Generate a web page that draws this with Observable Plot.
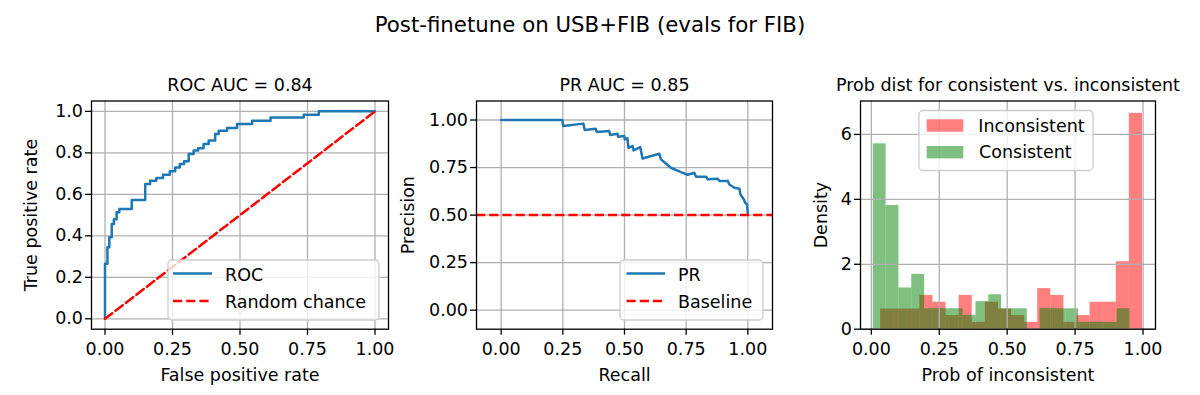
<!DOCTYPE html>
<html><head><meta charset="utf-8">
<script src="https://cdn.jsdelivr.net/npm/d3@7"></script>
<script src="https://cdn.jsdelivr.net/npm/@observablehq/plot@0.6"></script>
<style>
body{margin:0;background:#fff;font-family:"DejaVu Sans",sans-serif;}
#fig{position:relative;width:1200px;height:395px;overflow:hidden;background:#fff;}
#fig > svg{position:absolute;top:0;}
</style></head><body><div id="fig"></div>
<script>
// ---------- texts ----------
const suptitle = "Post-finetune on USB+FIB (evals for FIB)";
const rocTitle = "ROC AUC = 0.84";
const prTitle = "PR AUC = 0.85";
const histTitle = "Prob dist for consistent vs. inconsistent";
const rocXLabel = "False positive rate", rocYLabel = "True positive rate";
const prXLabel = "Recall", prYLabel = "Precision";
const histXLabel = "Prob of inconsistent", histYLabel = "Density";
const rocLegend = ["ROC", "Random chance"];
const prLegend = ["PR", "Baseline"];
const histLegend = ["Inconsistent", "Consistent"];

// ---------- tick values ----------
const rocXTicks = [0, 0.25, 0.5, 0.75, 1];
const rocYTicks = [0, 0.2, 0.4, 0.6, 0.8, 1];
const prXTicks = [0, 0.25, 0.5, 0.75, 1];
const prYTicks = [0, 0.25, 0.5, 0.75, 1];
const histXTicks = [0, 0.25, 0.5, 0.75, 1];
const histYTicks = [0, 2, 4, 6];

// ---------- ROC curve (step corners) ----------
const rocFpr = [0, 0, 0.009, 0.016, 0.025, 0.033, 0.043, 0.053, 0.099, 0.149, 0.167, 0.19, 0.215, 0.24, 0.26, 0.277, 0.293, 0.31, 0.328, 0.345, 0.365, 0.384, 0.408, 0.421, 0.452, 0.489, 0.545, 0.613, 0.736, 0.792, 1];
const rocTpr = [0, 0.265, 0.345, 0.393, 0.457, 0.48, 0.514, 0.53, 0.573, 0.65, 0.666, 0.679, 0.695, 0.711, 0.73, 0.746, 0.759, 0.795, 0.811, 0.822, 0.843, 0.859, 0.891, 0.907, 0.92, 0.939, 0.955, 0.971, 0.984, 1.0, 1.0];
const chanceX = [0, 1];
const chanceY = [0, 1];

// ---------- PR curve ----------
const prRecall = [0, 0.248, 0.252, 0.333, 0.339, 0.383, 0.388, 0.438, 0.442, 0.472, 0.474, 0.499, 0.501, 0.512, 0.516, 0.533, 0.537, 0.564, 0.573, 0.641, 0.648, 0.664, 0.688, 0.729, 0.756, 0.783, 0.79, 0.831, 0.837, 0.878, 0.885, 0.919, 0.925, 0.946, 0.966, 0.97, 0.984, 0.989, 0.997, 1.0];
const prPrecision = [1, 1, 0.968, 0.981, 0.947, 0.954, 0.937, 0.942, 0.921, 0.928, 0.912, 0.916, 0.898, 0.904, 0.854, 0.863, 0.84, 0.858, 0.798, 0.823, 0.793, 0.775, 0.749, 0.726, 0.712, 0.723, 0.702, 0.702, 0.688, 0.691, 0.679, 0.679, 0.661, 0.644, 0.639, 0.609, 0.582, 0.565, 0.556, 0.504];
const baselinePrecision = [0.5];

// ---------- histograms (density, 20 bins each) ----------
const inconsistentRange = [0.034, 0.998];
const inconsistentDensity = [0.62, 0.62, 0.62, 1.04, 0.83, 0.42, 1.04, 0.21, 0.83, 0.62, 0.42, 0.21, 1.25, 1.04, 0.21, 0.42, 0.83, 0.83, 2.08, 6.65];
const consistentRange = [0.007, 0.952];
const consistentDensity = [5.71, 3.81, 1.27, 1.69, 0.63, 0.63, 0.63, 0.42, 0.85, 1.06, 0.63, 0.63, 0, 0.63, 0.63, 0.63, 0.21, 0.21, 0.21, 0.63];

// ---------- styling ----------
const FONT = "DejaVu Sans";
const FS = 17.5;
const BLUE = "#1f77b4", RED = "red", GRID = "#b0b0b0";
const DASH = "9.2,4";
const TOP = 100.5, BOTTOM = 66.3;

function toBins(range, dens) {
  const w = (range[1] - range[0]) / dens.length;
  return dens.map((y, i) => ({x1: range[0] + i * w, x2: range[0] + (i + 1) * w, y}));
}
const zip = (a, b) => a.map((x, i) => ({x, y: b[i]}));

function panel({left, width, marginLeft, marginRight, xDomain, yDomain, xTicks, yTicks, xFmt, yFmt, title, xLabel, yLabel, yLabelDx, content, gridOnTop}) {
  const grid = [
    Plot.gridX(xTicks, {stroke: GRID, strokeOpacity: 1, strokeWidth: 1.3}),
    Plot.gridY(yTicks, {stroke: GRID, strokeOpacity: 1, strokeWidth: 1.3})
  ];
  const p = Plot.plot({
    width, height: 395,
    marginTop: TOP, marginBottom: BOTTOM, marginLeft, marginRight,
    x: {domain: xDomain}, y: {domain: yDomain},
    style: {fontFamily: FONT, fontSize: FS + "px", color: "black", background: "transparent", overflow: "visible"},
    marks: [
      ...(gridOnTop ? [] : grid),
      ...content,
      ...(gridOnTop ? grid : []),
      Plot.frame({stroke: "black", strokeWidth: 1.3}),
      Plot.axisX(xTicks, {tickFormat: xFmt, tickSize: 6, tickPadding: 7.5, label: null, strokeWidth: 1.3, fontSize: FS}),
      Plot.axisY(yTicks, {tickFormat: yFmt, tickSize: 6, tickPadding: 2.5, label: null, strokeWidth: 1.3, fontSize: FS}),
      Plot.text([title], {text: d => d, frameAnchor: "top", dy: -9.8, lineAnchor: "bottom", fontSize: FS}),
      Plot.text([xLabel], {text: d => d, frameAnchor: "bottom", dy: 52, lineAnchor: "bottom", fontSize: FS}),
      Plot.text([yLabel], {text: d => d, frameAnchor: "left", textAnchor: "middle", dx: yLabelDx, rotate: -90, lineAnchor: "bottom", fontSize: FS})
    ]
  });
  p.style.left = left + "px";
  return p;
}

const fig = document.getElementById("fig");

fig.append(panel({
  left: 0, width: 420, marginLeft: 91, marginRight: 32,
  xDomain: [-0.05, 1.05], yDomain: [-0.05, 1.05],
  xTicks: rocXTicks, yTicks: rocYTicks, xFmt: d3.format(".2f"), yFmt: d3.format(".1f"),
  title: rocTitle, xLabel: rocXLabel, yLabel: rocYLabel, yLabelDx: -55,
  content: [
    Plot.line(zip(rocFpr, rocTpr), {x: "x", y: "y", curve: "step-after", stroke: BLUE, strokeWidth: 2.5}),
    Plot.line(zip(chanceX, chanceY), {x: "x", y: "y", stroke: RED, strokeWidth: 2.5, strokeDasharray: DASH})
  ]
}));

fig.append(panel({
  left: 420, width: 390, marginLeft: 56, marginRight: 38,
  xDomain: [-0.1, 1.1], yDomain: [-0.1, 1.1],
  xTicks: prXTicks, yTicks: prYTicks, xFmt: d3.format(".2f"), yFmt: d3.format(".2f"),
  title: prTitle, xLabel: prXLabel, yLabel: prYLabel, yLabelDx: -63,
  content: [
    Plot.line(zip(prRecall, prPrecision), {x: "x", y: "y", stroke: BLUE, strokeWidth: 2.5}),
    Plot.ruleY(baselinePrecision, {stroke: RED, strokeWidth: 2.5, strokeDasharray: DASH})
  ]
}));

fig.append(panel({
  left: 810, width: 390, marginLeft: 50, marginRight: 45,
  xDomain: [-0.04, 1.046], yDomain: [0, 7.03],
  xTicks: histXTicks, yTicks: histYTicks, xFmt: d3.format(".2f"), yFmt: d3.format("d"),
  title: histTitle, xLabel: histXLabel, yLabel: histYLabel, yLabelDx: -34,
  gridOnTop: true,
  content: [
    Plot.rect(toBins(inconsistentRange, inconsistentDensity), {x1: "x1", x2: "x2", y1: 0, y2: "y", fill: "red", fillOpacity: 0.5}),
    Plot.rect(toBins(consistentRange, consistentDensity), {x1: "x1", x2: "x2", y1: 0, y2: "y", fill: "green", fillOpacity: 0.5})
  ]
}));

// ---------- overlay: suptitle and legends ----------
const ov = d3.select(fig).append("svg")
  .attr("width", 1200).attr("height", 395)
  .style("left", "0px").style("pointer-events", "none")
  .attr("font-family", FONT);

ov.append("text").attr("x", 590).attr("y", 32).attr("text-anchor", "middle")
  .attr("font-size", 21.3).attr("fill", "black").text(suptitle);

function legendBox(x, y, w, h) {
  ov.append("rect").attr("x", x).attr("y", y).attr("width", w).attr("height", h)
    .attr("rx", 4).attr("fill", "white").attr("fill-opacity", 0.8)
    .attr("stroke", "#cccccc").attr("stroke-width", 1.3);
}
function legendText(x, y, t) {
  ov.append("text").attr("x", x).attr("y", y).attr("font-size", FS).attr("fill", "black").text(t);
}
function legendLine(x1, x2, y, color, dash) {
  const l = ov.append("line").attr("x1", x1).attr("x2", x2).attr("y1", y).attr("y2", y)
    .attr("stroke", color).attr("stroke-width", 2.5);
  if (dash) l.attr("stroke-dasharray", dash);
}

// ROC legend
legendBox(168, 260, 211, 60);
legendLine(173, 212, 273.5, BLUE);
legendText(225, 280.7, rocLegend[0]);
legendLine(173, 212, 301, RED, DASH);
legendText(225, 307.5, rocLegend[1]);

// PR legend
legendBox(620, 260, 143, 60);
legendLine(626.5, 665, 273.5, BLUE);
legendText(678, 280.7, prLegend[0]);
legendLine(626.5, 665, 301, RED, DASH);
legendText(678, 307.5, prLegend[1]);

// Histogram legend
legendBox(919, 110.5, 174, 60);
ov.append("rect").attr("x", 926.7).attr("y", 119.3).attr("width", 36.6).attr("height", 12.4).attr("fill", "red").attr("fill-opacity", 0.5);
legendText(978.3, 131.7, histLegend[0]);
ov.append("rect").attr("x", 926.7).attr("y", 146).attr("width", 36.6).attr("height", 12.4).attr("fill", "green").attr("fill-opacity", 0.5);
legendText(979, 158.3, histLegend[1]);
</script>
</body></html>
